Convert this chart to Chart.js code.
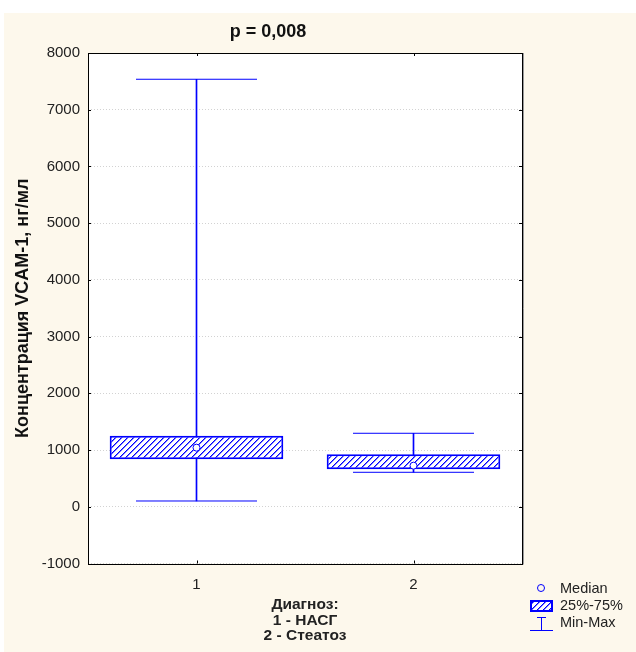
<!DOCTYPE html>
<html>
<head>
<meta charset="utf-8">
<script src="https://cdn.jsdelivr.net/npm/chart.js@4/dist/chart.umd.min.js"></script>
<style>
  body { margin: 0; background: #ffffff; }
  #wrap { width: 636px; height: 652px; }
</style>
</head>
<body>
<div id="wrap"><canvas id="chart"></canvas></div>
<script>
// box plot data (нг/мл)
const categories = ['1', '2'];
const maxValues = [7537, 1296];
const q3Values = [1254, 926];
const medianValues = [1042, 725];
const q1Values = [837, 661];
const minValues = [102, 608];

const yTicks = [-1000, 0, 1000, 2000, 3000, 4000, 5000, 6000, 7000, 8000];

const BLUE = '#0000ff';
const FONT = "'Liberation Sans', Arial, sans-serif";

const ctx = document.getElementById('chart').getContext('2d');

// "/" hatching, pixel by pixel so it stays crisp
function hatchPattern() {
    const c = document.createElement('canvas');
    c.width = 6;
    c.height = 6;
    const g = c.getContext('2d');
    g.fillStyle = '#ffffff';
    g.fillRect(0, 0, 6, 6);
    for (let px = 0; px < 6; px++) {
        for (let py = 0; py < 6; py++) {
            const k = (px + py) % 6;
            if (k === 0) { g.fillStyle = BLUE; g.fillRect(px, py, 1, 1); }
            if (k === 1) { g.fillStyle = '#7a7aff'; g.fillRect(px, py, 1, 1); }
        }
    }
    return ctx.createPattern(c, 'repeat');
}
const hatch = hatchPattern();

// background, frame, inward ticks, title and legend
const decor = {
    id: 'decor',
    beforeDraw(chart) {
        const c = chart.ctx;
        const a = chart.chartArea;
        c.save();
        c.fillStyle = '#ffffff';
        c.fillRect(0, 0, chart.width, chart.height);
        c.fillStyle = '#fdf8ec';
        c.fillRect(4, 13, chart.width - 4, chart.height - 13);
        c.fillStyle = '#ffffff';
        c.fillRect(a.left, a.top, a.right - a.left, a.bottom - a.top);
        c.restore();
    },
    afterDraw(chart) {
        const c = chart.ctx;
        const a = chart.chartArea;
        const x = chart.scales.x;
        const y = chart.scales.y;
        c.save();
        c.strokeStyle = '#000000';
        c.lineWidth = 1;
        c.beginPath();
        // inward tick marks
        x.ticks.forEach((t, i) => {
            const px = Math.round(x.getPixelForTick(i)) + 0.5;
            c.moveTo(px, a.top); c.lineTo(px, a.top + 3);
            c.moveTo(px, a.bottom); c.lineTo(px, a.bottom - 3);
        });
        y.ticks.forEach((t, i) => {
            const py = Math.round(y.getPixelForTick(i)) + 0.5;
            c.moveTo(a.left, py); c.lineTo(a.left + 3, py);
            c.moveTo(a.right, py); c.lineTo(a.right - 3, py);
        });
        c.stroke();
        c.strokeRect(Math.round(a.left) + 0.5, Math.round(a.top) + 0.5,
            Math.round(a.right - a.left), Math.round(a.bottom - a.top));
        c.strokeStyle = '#9a9a9a';
        c.beginPath();
        c.moveTo(Math.round(a.right) + 1.5, a.top);
        c.lineTo(Math.round(a.right) + 1.5, a.bottom + 1);
        c.stroke();

        // title
        c.fillStyle = '#111111';
        c.font = 'bold 18px ' + FONT;
        c.textAlign = 'center';
        c.textBaseline = 'middle';
        c.fillText('p = 0,008', 268, 32);

        // legend
        c.font = '14.5px ' + FONT;
        c.textAlign = 'left';
        c.fillStyle = '#222222';
        c.strokeStyle = BLUE;
        c.lineWidth = 1;
        c.beginPath();
        c.arc(541, 588, 3.5, 0, Math.PI * 2);
        c.stroke();
        c.fillText('Median', 560, 589);
        c.fillStyle = hatch;
        c.fillRect(530, 600, 23, 12);
        c.lineWidth = 2;
        c.strokeRect(531, 601, 21, 10);
        c.fillStyle = '#222222';
        c.fillText('25%-75%', 560, 606);
        c.lineWidth = 1;
        c.beginPath();
        c.moveTo(537, 617.5); c.lineTo(546, 617.5);
        c.moveTo(541.5, 617); c.lineTo(541.5, 630);
        c.moveTo(530, 630.5); c.lineTo(553, 630.5);
        c.stroke();
        c.fillText('Min-Max', 560, 623);
        c.restore();
    }
};

new Chart(ctx, {
    type: 'bar',
    data: {
        labels: categories,
        datasets: [
            {
                type: 'line',
                label: 'Median',
                data: medianValues,
                showLine: false,
                pointStyle: 'circle',
                pointRadius: 3.5,
                pointBackgroundColor: '#ffffff',
                pointBorderColor: BLUE,
                pointBorderWidth: 1,
                order: 0
            },
            {
                label: '25%-75%',
                data: categories.map((c, i) => [q1Values[i], q3Values[i]]),
                backgroundColor: hatch,
                borderColor: BLUE,
                borderWidth: 2,
                borderSkipped: false,
                grouped: false,
                categoryPercentage: 1,
                barPercentage: 0.8,
                order: 1
            },
            {
                type: 'line',
                label: 'Max',
                data: maxValues,
                showLine: false,
                pointStyle: 'line',
                pointRadius: 60.5,
                pointBorderColor: BLUE,
                pointBorderWidth: 1,
                order: 2
            },
            {
                type: 'line',
                label: 'Min',
                data: minValues,
                showLine: false,
                pointStyle: 'line',
                pointRadius: 60.5,
                pointBorderColor: BLUE,
                pointBorderWidth: 1,
                order: 2
            },
            {
                label: 'Min-Max',
                data: categories.map((c, i) => [minValues[i], maxValues[i]]),
                backgroundColor: BLUE,
                borderWidth: 0,
                grouped: false,
                barThickness: 1,
                order: 3
            }
        ]
    },
    options: {
        responsive: true,
        maintainAspectRatio: false,
        animation: false,
        events: [],
        layout: {
            autoPadding: false,
            padding: { left: 0, right: 114, top: 53, bottom: 0 }
        },
        plugins: {
            legend: { display: false },
            tooltip: { enabled: false },
            title: { display: false }
        },
        scales: {
            x: {
                offset: true,
                grid: { display: false, drawTicks: false },
                border: { display: false },
                ticks: {
                    padding: 12,
                    color: '#222222',
                    font: { family: FONT, size: 15 }
                },
                title: {
                    display: true,
                    text: ['Диагноз:', '1 - НАСГ', '2 - Стеатоз'],
                    color: '#222222',
                    font: { family: FONT, size: 15.5, weight: 'bold', lineHeight: 1.02 },
                    padding: { top: 0, bottom: 8 }
                },
                afterFit(scale) { scale.height = 88.5; }
            },
            y: {
                min: -1000,
                max: 8000,
                afterBuildTicks(scale) {
                    scale.ticks = yTicks.map(v => ({ value: v }));
                },
                grid: { color: '#d2d2d2', drawTicks: false },
                border: { display: false, dash: [1, 2] },
                ticks: {
                    padding: 8,
                    color: '#222222',
                    font: { family: FONT, size: 15 },
                    callback: v => String(v)
                },
                title: {
                    display: true,
                    text: 'Концентрация VCAM-1, нг/мл',
                    color: '#111111',
                    font: { family: FONT, size: 18, weight: 'bold', lineHeight: 1.2 },
                    padding: { top: 12, bottom: 0 }
                },
                afterFit(scale) { scale.width = 88; }
            }
        }
    },
    plugins: [decor]
});
</script>
</body>
</html>
